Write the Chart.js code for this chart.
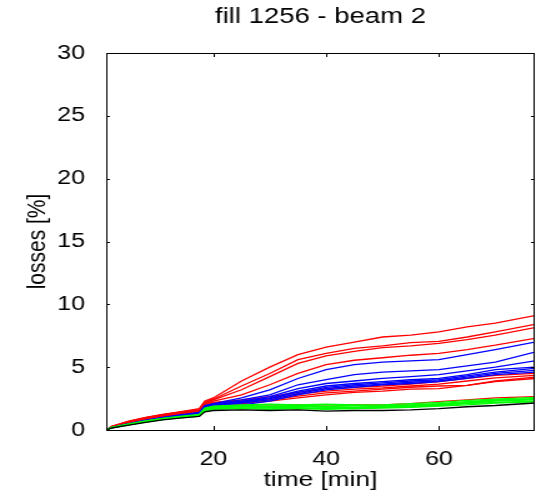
<!DOCTYPE html>
<html>
<head>
<meta charset="utf-8">
<script src="https://cdn.jsdelivr.net/npm/chart.js@4"></script>
<style>
  body { margin: 0; background: #fff; overflow: hidden; }
  /* the original figure is stretched sideways, so draw narrow and widen it */
  #wrap { width: 429px; height: 499px; transform: scaleX(1.2494); transform-origin: 0 0; }
  #chart { display: block; }
</style>
</head>
<body>
<div id="wrap"><canvas id="chart" width="429" height="499"></canvas></div>
<script>
// time axis (minutes) shared by every run
const times = [1, 2, 5, 8, 11, 14, 17.5, 18.5, 20, 25, 30, 35, 40, 45, 50, 55, 60, 65, 70, 77];

const xTicks = [20, 40, 60];

// losses [%] per run
const red1 = [0, .30, .70, 1.00, 1.25, 1.45, 1.70, 2.30, 2.55, 3.90, 5.00, 6.00, 6.60, 7.00, 7.40, 7.55, 7.80, 8.20, 8.50, 9.10];
const red2 = [0, .29, .68, .98, 1.22, 1.42, 1.65, 2.20, 2.45, 3.50, 4.50, 5.60, 6.10, 6.50, 6.70, 6.95, 7.05, 7.40, 7.80, 8.40];
const red3 = [0, .28, .66, .96, 1.20, 1.40, 1.62, 2.15, 2.40, 3.20, 4.25, 5.30, 5.90, 6.25, 6.55, 6.70, 6.90, 7.20, 7.55, 8.15];
const red4 = [0, .27, .64, .94, 1.18, 1.38, 1.58, 2.10, 2.30, 2.80, 3.60, 4.50, 5.20, 5.55, 5.75, 5.95, 6.10, 6.40, 6.75, 7.30];
const red5 = [0, .26, .62, .92, 1.15, 1.35, 1.55, 2.05, 2.20, 2.40, 2.65, 3.00, 3.30, 3.40, 3.50, 3.65, 3.85, 4.10, 4.35, 4.50];
const red6 = [0, .25, .60, .90, 1.13, 1.33, 1.52, 2.00, 2.15, 2.30, 2.50, 2.85, 3.10, 3.25, 3.35, 3.50, 3.65, 3.90, 4.15, 4.35];
const red7 = [0, .24, .58, .88, 1.10, 1.30, 1.50, 1.95, 2.10, 2.20, 2.40, 2.70, 2.95, 3.10, 3.25, 3.40, 3.50, 3.55, 3.90, 4.20];
const red8 = [0, .23, .56, .86, 1.08, 1.28, 1.48, 1.90, 2.05, 2.10, 2.30, 2.55, 2.80, 3.00, 3.10, 3.25, 3.30, 3.55, 3.85, 4.10];
const red9 = [0, .22, .52, .80, 1.02, 1.22, 1.40, 1.85, 1.95, 2.00, 2.00, 2.00, 2.00, 2.00, 2.00, 2.10, 2.25, 2.40, 2.55, 2.65];

const blue1 = [0, .22, .50, .78, 1.00, 1.20, 1.40, 1.95, 2.10, 2.55, 3.20, 4.10, 4.80, 5.20, 5.40, 5.50, 5.60, 6.00, 6.40, 7.00];
const blue2 = [0, .21, .48, .75, .98, 1.15, 1.35, 1.90, 2.05, 2.40, 2.80, 3.60, 4.00, 4.40, 4.60, 4.70, 4.80, 5.10, 5.40, 6.20];
const blue3 = [0, .20, .47, .74, .96, 1.13, 1.32, 1.85, 2.00, 2.30, 2.65, 3.30, 3.70, 3.90, 4.10, 4.25, 4.40, 4.70, 5.00, 5.50];
const blue4 = [0, .20, .46, .72, .94, 1.10, 1.30, 1.80, 1.95, 2.25, 2.55, 3.10, 3.50, 3.70, 3.85, 4.00, 4.10, 4.40, 4.80, 5.00];
const blue5 = [0, .19, .45, .70, .92, 1.08, 1.28, 1.78, 1.92, 2.20, 2.50, 3.00, 3.40, 3.60, 3.75, 3.90, 4.00, 4.30, 4.60, 4.90];
const blue6 = [0, .19, .44, .69, .90, 1.06, 1.25, 1.75, 1.90, 2.15, 2.40, 2.90, 3.30, 3.50, 3.65, 3.80, 3.90, 4.20, 4.50, 4.75];
const blue7 = [0, .18, .43, .67, .88, 1.04, 1.22, 1.70, 1.85, 2.00, 2.30, 2.80, 3.20, 3.40, 3.60, 3.70, 3.85, 4.10, 4.40, 4.60];

const green1 = [0, .22, .48, .72, .92, 1.08, 1.25, 1.75, 1.90, 2.00, 2.05, 2.00, 2.05, 2.00, 2.00, 2.10, 2.20, 2.35, 2.45, 2.60];
const green2 = [0, .20, .45, .70, .90, 1.05, 1.20, 1.70, 1.85, 1.95, 1.90, 1.95, 1.90, 1.95, 1.90, 2.00, 2.10, 2.25, 2.40, 2.50];
const green3 = [0, .20, .44, .68, .88, 1.03, 1.18, 1.65, 1.80, 1.90, 1.85, 1.90, 1.85, 1.80, 1.90, 1.95, 2.05, 2.20, 2.35, 2.45];
const green4 = [0, .18, .42, .66, .86, 1.00, 1.15, 1.60, 1.75, 1.85, 1.80, 1.80, 1.85, 1.80, 1.85, 1.90, 2.00, 2.15, 2.30, 2.40];
const green5 = [0, .18, .40, .64, .84, .98, 1.12, 1.55, 1.70, 1.75, 1.75, 1.70, 1.75, 1.70, 1.80, 1.85, 1.95, 2.10, 2.20, 2.30];
const green6 = [0, .17, .40, .62, .82, .96, 1.10, 1.50, 1.65, 1.70, 1.65, 1.70, 1.65, 1.70, 1.75, 1.80, 1.90, 2.00, 2.15, 2.25];

const black1 = [0, .16, .38, .60, .80, .94, 1.08, 1.45, 1.55, 1.60, 1.55, 1.60, 1.50, 1.55, 1.55, 1.60, 1.70, 1.85, 1.95, 2.15];

const blackRuns = [black1];
const greenRuns = [green1, green2, green3, green4, green5, green6];
const blueRuns = [blue1, blue2, blue3, blue4, blue5, blue6, blue7];
const redRuns = [red1, red2, red3, red4, red5, red6, red7, red8, red9];

function makeSets(runs, color) {
    return runs.map(vals => ({
        data: vals.map((v, i) => ({ x: times[i], y: v })),
        borderColor: color,
        borderWidth: 1.3,
        pointRadius: 0,
        fill: false,
        tension: 0
    }));
}

const datasets = []
    .concat(makeSets(blackRuns, '#000000'))
    .concat(makeSets(greenRuns, '#00ff00'))
    .concat(makeSets(blueRuns, '#0000ff'))
    .concat(makeSets(redRuns, '#ff0000'));

// matlab-style box with inward ticks
const boxPlugin = {
    id: 'box',
    afterDraw(chart) {
        const ctx = chart.ctx;
        const a = chart.chartArea;
        const xs = chart.scales.x, ys = chart.scales.y;
        ctx.save();
        ctx.strokeStyle = '#000';
        ctx.lineWidth = 1;
        ctx.beginPath();
        ctx.rect(a.left + 0.5, a.top + 0.5, a.right - a.left - 1, a.bottom - a.top);
        xs.ticks.forEach(t => {
            const px = Math.round(xs.getPixelForValue(t.value)) + 0.5;
            ctx.moveTo(px, a.bottom); ctx.lineTo(px, a.bottom - 4);
            ctx.moveTo(px, a.top); ctx.lineTo(px, a.top + 4);
        });
        ys.ticks.forEach(t => {
            const py = Math.round(ys.getPixelForValue(t.value)) + 0.5;
            ctx.moveTo(a.left, py); ctx.lineTo(a.left + 3, py);
            ctx.moveTo(a.right, py); ctx.lineTo(a.right - 3, py);
        });
        ctx.stroke();
        ctx.restore();
    }
};

const font = 'Liberation Sans, Arial, sans-serif';

new Chart(document.getElementById('chart').getContext('2d'), {
    type: 'line',
    data: { datasets: datasets },
    plugins: [boxPlugin],
    options: {
        responsive: false,
        animation: false,
        devicePixelRatio: 1,
        layout: { padding: { left: 0, right: 1, top: 0, bottom: 0 } },
        plugins: {
            legend: { display: false },
            tooltip: { enabled: false },
            title: {
                display: true,
                fullSize: false,
                text: 'fill 1256 - beam 2',
                color: '#000',
                font: { family: font, size: 22, weight: 'normal' },
                padding: { top: 4, bottom: 22.6 }
            }
        },
        scales: {
            x: {
                type: 'linear',
                min: 1,
                max: 77,
                grid: { display: false },
                border: { display: false },
                afterBuildTicks: axis => { axis.ticks = xTicks.map(v => ({ value: v })); },
                afterFit: axis => { axis.height = 69; },
                ticks: { color: '#000', padding: 9, maxRotation: 0, font: { family: font, size: 20 } },
                title: {
                    display: true,
                    text: 'time [min]',
                    color: '#000',
                    font: { family: font, size: 21 },
                    padding: { top: 6, bottom: 6 }
                }
            },
            y: {
                min: 0,
                max: 30,
                grid: { display: false },
                border: { display: false },
                afterFit: axis => { axis.width = 85; },
                ticks: { stepSize: 5, color: '#000', padding: 9, font: { family: font, size: 20 } },
                title: {
                    display: true,
                    text: 'losses [%]',
                    color: '#000',
                    font: { family: font, size: 21 },
                    padding: { top: 18, bottom: 18 }
                }
            }
        }
    }
});
</script>
</body>
</html>
